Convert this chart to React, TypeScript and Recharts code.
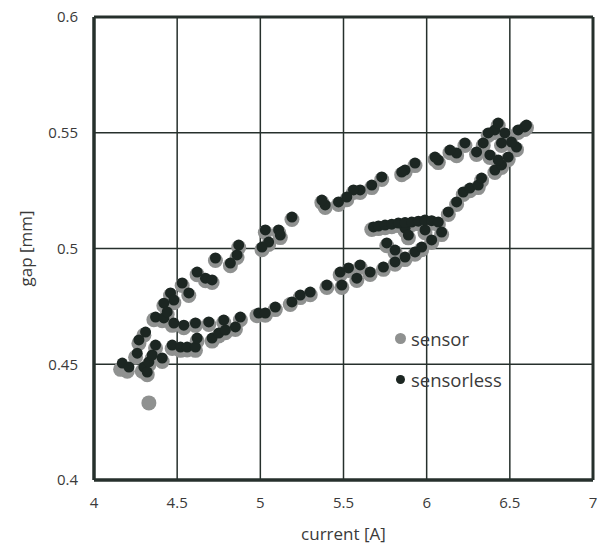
import React from 'react';
import { ScatterChart, Scatter, XAxis, YAxis, CartesianGrid, Legend, ReferenceLine } from 'recharts';

// [current (A), gap (mm)]
const sensorless: [number, number][] = [
  [4.17, 0.4505], [4.21, 0.4488], [4.26, 0.4548], [4.27, 0.4605], [4.30, 0.4488], [4.31, 0.4639],
  [4.32, 0.4466], [4.33, 0.4510], [4.35, 0.4540], [4.37, 0.4583], [4.41, 0.4527], [4.47, 0.4583],
  [4.52, 0.4574], [4.56, 0.4574], [4.61, 0.4574], [4.62, 0.4613], [4.71, 0.4613], [4.75, 0.4635],
  [4.79, 0.4648], [4.85, 0.4661],
  [4.37, 0.4704], [4.42, 0.4700], [4.48, 0.4678], [4.54, 0.4669], [4.61, 0.4678], [4.69, 0.4683],
  [4.78, 0.4691], [4.88, 0.4704], [4.99, 0.4721], [5.03, 0.4721], [5.09, 0.4747], [5.19, 0.4769],
  [5.24, 0.4799], [5.30, 0.4812], [5.40, 0.4842], [5.49, 0.4842], [5.48, 0.4898], [5.53, 0.4916],
  [5.58, 0.4872], [5.60, 0.4929], [5.66, 0.4898], [5.74, 0.4920], [5.81, 0.4942], [5.87, 0.4963],
  [5.93, 0.4985], [5.97, 0.5006], [6.03, 0.5037], [6.09, 0.5071],
  [5.76, 0.5024], [5.81, 0.4993], [5.87, 0.5088], [5.89, 0.5058], [5.99, 0.5080],
  [5.68, 0.5093], [5.71, 0.5097], [5.75, 0.5101], [5.79, 0.5105], [5.83, 0.5110], [5.87, 0.5112],
  [5.91, 0.5114], [5.95, 0.5118], [5.99, 0.5123], [6.03, 0.5120], [6.07, 0.5114], [6.13, 0.5158],
  [6.18, 0.5201], [6.22, 0.5244], [6.26, 0.5261], [6.31, 0.5274], [6.33, 0.5304], [6.41, 0.5339],
  [6.45, 0.5361], [6.43, 0.5382], [6.49, 0.5395], [6.38, 0.5404], [6.54, 0.5438], [6.45, 0.5456],
  [6.51, 0.5460], [6.55, 0.5512], [6.59, 0.5525], [6.60, 0.5533], [6.47, 0.5499], [6.41, 0.5512],
  [6.37, 0.5499], [6.43, 0.5542], [6.34, 0.5456], [6.30, 0.5417],
  [6.23, 0.5456], [6.18, 0.5412], [6.14, 0.5425], [6.07, 0.5382], [6.05, 0.5395], [5.93, 0.5369],
  [5.87, 0.5339], [5.85, 0.5330], [5.73, 0.5309], [5.67, 0.5274], [5.60, 0.5253], [5.56, 0.5253],
  [5.52, 0.5222], [5.47, 0.5201], [5.39, 0.5188], [5.37, 0.5209], [5.19, 0.5136], [5.11, 0.5080],
  [5.12, 0.5058], [5.03, 0.5080], [5.05, 0.5028], [5.01, 0.5006], [4.87, 0.5015], [4.86, 0.4972],
  [4.82, 0.4937], [4.73, 0.4959], [4.62, 0.4898], [4.67, 0.4872], [4.71, 0.4864], [4.53, 0.4851],
  [4.57, 0.4808], [4.46, 0.4808], [4.48, 0.4777], [4.42, 0.4764], [4.44, 0.4726],
];

const sensor: [number, number][] = [
  [4.33, 0.4333],
  [4.16, 0.4478], [4.20, 0.4470], [4.25, 0.4530], [4.27, 0.4590], [4.29, 0.4470], [4.30, 0.4625],
  [4.32, 0.4455], [4.33, 0.4498], [4.35, 0.4525], [4.37, 0.4570], [4.41, 0.4512], [4.47, 0.4568],
  [4.52, 0.4560], [4.56, 0.4562], [4.61, 0.4560], [4.62, 0.4600], [4.71, 0.4600], [4.75, 0.4622],
  [4.79, 0.4636], [4.85, 0.4650],
  [4.36, 0.4692], [4.41, 0.4688], [4.47, 0.4668], [4.54, 0.4658], [4.61, 0.4668], [4.69, 0.4672],
  [4.78, 0.4680], [4.88, 0.4692], [4.98, 0.4710], [5.03, 0.4712], [5.09, 0.4736], [5.18, 0.4758],
  [5.24, 0.4788], [5.30, 0.4800], [5.40, 0.4832], [5.49, 0.4832], [5.48, 0.4886], [5.53, 0.4905],
  [5.58, 0.4862], [5.60, 0.4918], [5.66, 0.4888], [5.74, 0.4910], [5.81, 0.4932], [5.87, 0.4952],
  [5.93, 0.4975], [5.97, 0.4995], [6.03, 0.5026], [6.09, 0.5060],
  [5.76, 0.5012], [5.81, 0.4982], [5.87, 0.5076], [5.89, 0.5046], [5.99, 0.5068],
  [5.67, 0.5082], [5.71, 0.5086], [5.75, 0.5090], [5.79, 0.5094], [5.83, 0.5099], [5.87, 0.5101],
  [5.91, 0.5103], [5.95, 0.5107], [5.99, 0.5112], [6.03, 0.5109], [6.07, 0.5103], [6.13, 0.5147],
  [6.18, 0.5190], [6.22, 0.5233], [6.26, 0.5250], [6.31, 0.5263], [6.33, 0.5293], [6.41, 0.5328],
  [6.45, 0.5350], [6.43, 0.5371], [6.49, 0.5384], [6.38, 0.5393], [6.54, 0.5427], [6.45, 0.5445],
  [6.51, 0.5449], [6.55, 0.5501], [6.59, 0.5514], [6.60, 0.5522], [6.47, 0.5488], [6.41, 0.5501],
  [6.37, 0.5488], [6.43, 0.5531], [6.34, 0.5445], [6.30, 0.5406],
  [6.23, 0.5445], [6.18, 0.5401], [6.14, 0.5414], [6.07, 0.5371], [6.05, 0.5384], [5.93, 0.5358],
  [5.87, 0.5328], [5.85, 0.5319], [5.73, 0.5298], [5.67, 0.5263], [5.60, 0.5242], [5.56, 0.5242],
  [5.52, 0.5211], [5.47, 0.5190], [5.39, 0.5177], [5.37, 0.5198], [5.19, 0.5125], [5.11, 0.5069],
  [5.12, 0.5047], [5.03, 0.5069], [5.05, 0.5017], [5.01, 0.4995], [4.87, 0.5004], [4.86, 0.4961],
  [4.82, 0.4926], [4.73, 0.4948], [4.62, 0.4887], [4.67, 0.4861], [4.71, 0.4853], [4.53, 0.4840],
  [4.57, 0.4797], [4.46, 0.4797], [4.48, 0.4766], [4.42, 0.4753], [4.44, 0.4715],
];

const xTicks = [4, 4.5, 5, 5.5, 6, 6.5, 7];
const yTicks = [0.4, 0.45, 0.5, 0.55, 0.6];

const sensorData = sensor.map(([x, y]) => ({ x, y }));
const sensorlessData = sensorless.map(([x, y]) => ({ x, y }));

const GRAY = '#8f9190';
const DARK = '#1c2622';
const LINE = '#26302c';
const TEXT = '#3a3a3a';

const dot = (r: number, fill: string) => (props: any) => (
  <circle cx={props.cx} cy={props.cy} r={r} fill={fill} />
);

const renderLegend = () => (
  <div style={{ fontFamily: '"Open Sans", sans-serif', fontSize: 18.5, color: TEXT }}>
    {[
      { name: 'sensor', color: GRAY, size: 11 },
      { name: 'sensorless', color: DARK, size: 9 },
    ].map((item) => (
      <div key={item.name} style={{ display: 'flex', alignItems: 'center', height: 41 }}>
        <span
          style={{
            display: 'inline-block',
            width: item.size,
            height: item.size,
            borderRadius: '50%',
            background: item.color,
            marginLeft: (11 - item.size) / 2,
            marginRight: 5 + (11 - item.size) / 2,
          }}
        />
        <span>{item.name}</span>
      </div>
    ))}
  </div>
);

const App: React.FC = () => {
  return (
    <div style={{ width: 602, height: 545, fontFamily: '"Open Sans", sans-serif' }}>
      <style>{'body { margin: 0; overflow: hidden; }'}</style>
      <ScatterChart width={602} height={545} margin={{ top: 17, right: 9, left: 18, bottom: 0 }}>
        <CartesianGrid stroke={LINE} strokeWidth={1.5} />
        <XAxis
          type="number"
          dataKey="x"
          domain={[4, 7]}
          ticks={xTicks}
          height={65}
          tickSize={0}
          tickMargin={17}
          axisLine={{ stroke: LINE, strokeWidth: 3.5 }}
          tick={{ fill: TEXT, fontSize: 15 }}
          label={{ value: 'current [A]', position: 'insideBottom', offset: 5, fill: TEXT, fontSize: 17 }}
        />
        <YAxis
          type="number"
          dataKey="y"
          domain={[0.4, 0.6]}
          ticks={yTicks}
          width={76}
          tickSize={0}
          tickMargin={16}
          axisLine={{ stroke: LINE, strokeWidth: 3.5 }}
          tick={{ fill: TEXT, fontSize: 15 }}
          label={{
            value: 'gap [mm]',
            angle: -90,
            position: 'insideLeft',
            offset: 8,
            fill: TEXT,
            fontSize: 17,
            style: { textAnchor: 'middle' },
          }}
        />
        <ReferenceLine y={0.6} stroke={LINE} strokeWidth={3} />
        <ReferenceLine x={7} stroke={LINE} strokeWidth={3} />
        <Scatter name="sensor" data={sensorData} fill={GRAY} shape={dot(7.5, GRAY)} isAnimationActive={false} />
        <Scatter name="sensorless" data={sensorlessData} fill={DARK} shape={dot(5.5, DARK)} isAnimationActive={false} />
        <Legend
          layout="vertical"
          align="center"
          verticalAlign="middle"
          wrapperStyle={{ left: 395, top: 318, width: 'auto' }}
          content={renderLegend}
        />
      </ScatterChart>
    </div>
  );
};

export default App;
